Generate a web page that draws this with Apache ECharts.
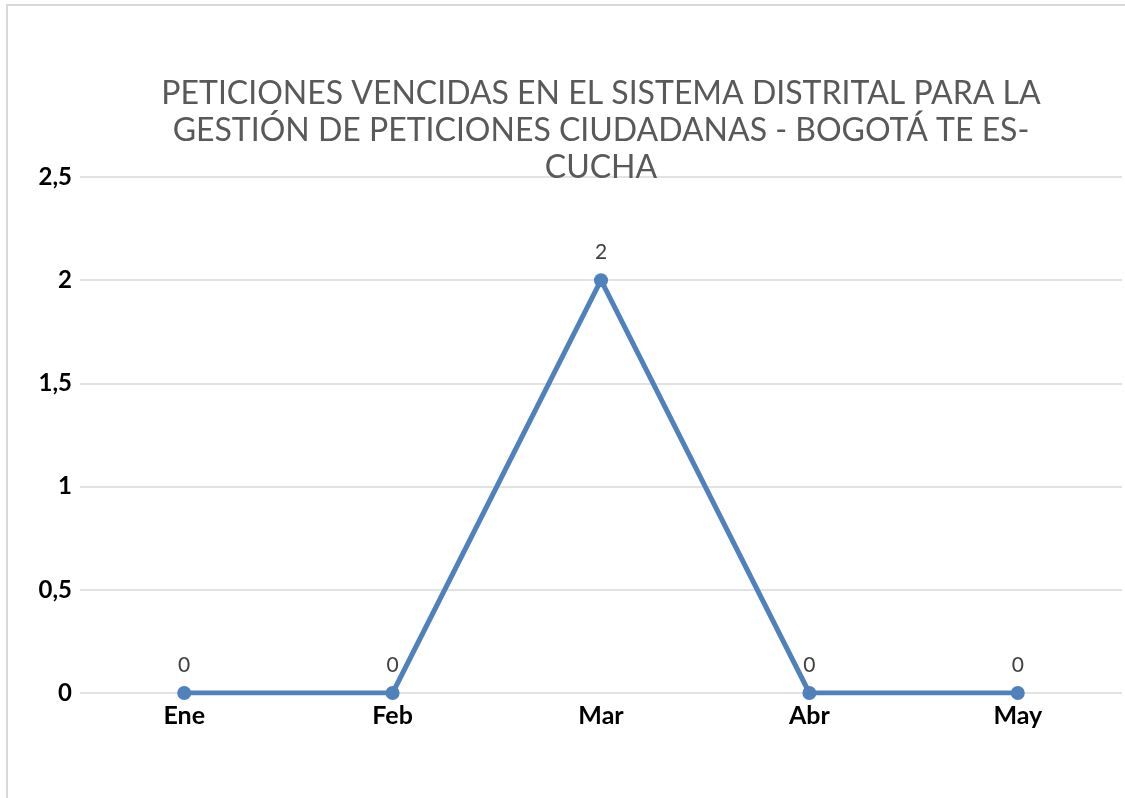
<!DOCTYPE html>
<html><head><meta charset="utf-8">
<script src="https://cdn.jsdelivr.net/npm/echarts@6/dist/echarts.min.js"></script>
<style>html,body{margin:0;padding:0;background:#fff}#c{width:1125px;height:798px}</style>
</head><body><div id="c"></div>
<script>
const categories = ['Ene','Feb','Mar','Abr','May'];
const values = [0,0,2,0,0];
const titleLines = ['PETICIONES VENCIDAS EN EL SISTEMA DISTRITAL PARA LA','GESTIÓN DE PETICIONES CIUDADANAS - BOGOTÁ TE ES-','CUCHA'];
const chart = echarts.init(document.getElementById('c'));
chart.setOption({
  animation:false,
  backgroundColor:'#fff',
  graphic:[{type:'rect',shape:{x:7,y:5,width:1130,height:810},style:{fill:'none',stroke:'#d9d9d9',lineWidth:2}}],
  title:{text:titleLines.join('\n'),left:596,top:70,textAlign:'center',
    textStyle:{fontFamily:'Lato',fontWeight:'normal',fontSize:32,color:'#595959',lineHeight:37}},
  grid:{left:80,right:3,top:177,bottom:105},
  xAxis:{type:'category',data:categories,boundaryGap:true,
    axisLine:{show:false},axisTick:{show:false},
    axisLabel:{fontFamily:'Lato',fontWeight:'bold',fontSize:25,color:'#000',margin:10}},
  yAxis:{type:'value',min:0,max:2.5,interval:0.5,
    axisLine:{show:false},axisTick:{show:false},
    splitLine:{lineStyle:{color:'#d9d9d9',width:1.5}},
    axisLabel:{fontFamily:'Lato',fontWeight:'bold',fontSize:24,color:'#000',margin:8,
      formatter:v=>String(v).replace('.',',')}},
  series:[{type:'line',data:values,symbol:'circle',symbolSize:14,
    lineStyle:{color:'#4f81bd',width:5},itemStyle:{color:'#4f81bd'},
    label:{show:true,position:'top',distance:10,fontFamily:'Lato',fontSize:21,color:'#404040'}}]
});
</script></body></html>
